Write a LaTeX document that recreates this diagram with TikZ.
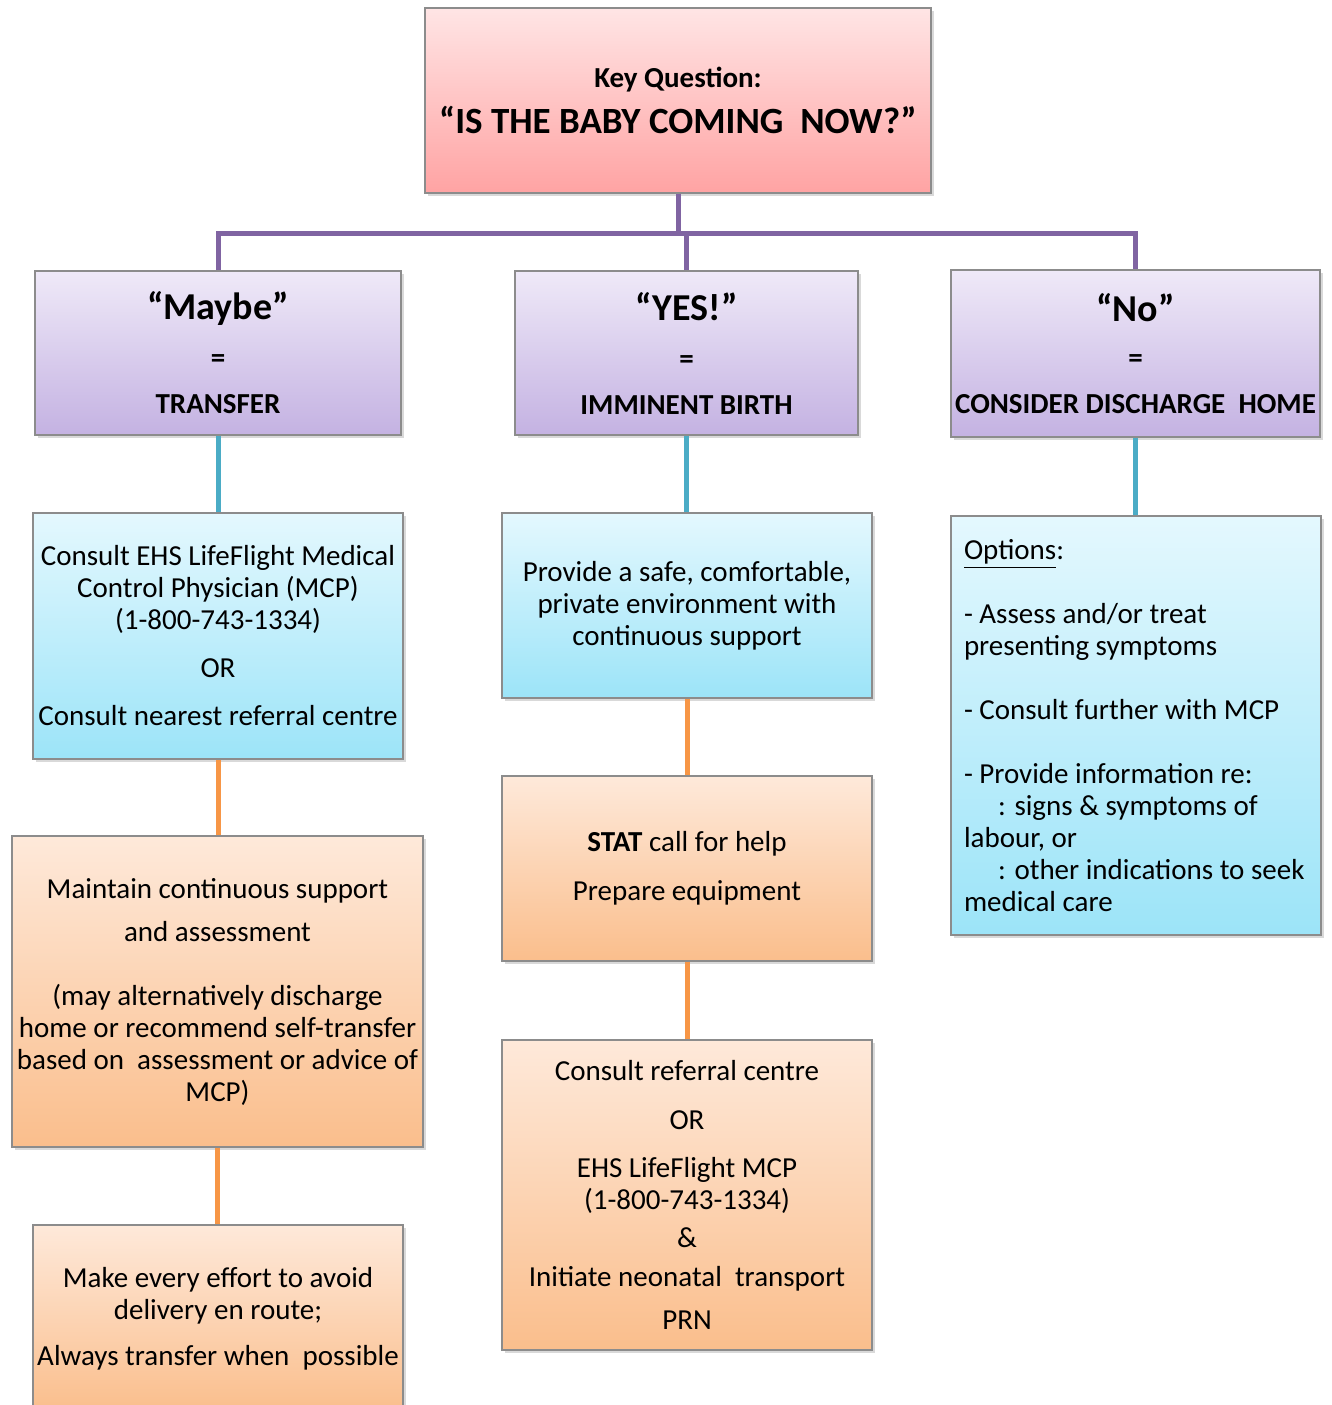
\documentclass[tikz,border=0pt]{standalone}
\usepackage{fontspec}
\setmainfont{Carlito}
\usetikzlibrary{shadows}
\definecolor{keytop}{RGB}{255,229,229}
\definecolor{keybot}{RGB}{255,163,163}
\definecolor{purtop}{RGB}{239,233,248}
\definecolor{purbot}{RGB}{196,178,226}
\definecolor{blutop}{RGB}{228,248,254}
\definecolor{blubot}{RGB}{156,228,248}
\definecolor{orntop}{RGB}{254,233,218}
\definecolor{ornbot}{RGB}{250,190,140}
\definecolor{purline}{RGB}{128,100,162}
\definecolor{bluline}{RGB}{75,172,198}
\definecolor{ornline}{RGB}{247,150,70}
\begin{document}
\begin{tikzpicture}[x=0.5pt,y=-0.5pt,
    box/.style={draw=black!45, line width=.6pt, align=center, inner sep=2pt,
      drop shadow={shadow xshift=1.5pt,shadow yshift=-1.5pt,opacity=.3},
      font=\fontsize{14.5}{16}\selectfont},
    keybox/.style={box, top color=keytop, bottom color=keybot},
    purbox/.style={box, top color=purtop, bottom color=purbot},
    blubox/.style={box, top color=blutop, bottom color=blubot},
    ornbox/.style={box, top color=orntop, bottom color=ornbot},
    link/.style={line width=2.5pt}]
  \useasboundingbox (0,0) rectangle (1332,1405);
  % question and the three answers
  \node[keybox, minimum width=253pt, minimum height=92.5pt] (key) at (678,100.5)
    {\bfseries Key Question:\\[7pt]{\fontsize{18.5}{20}\bfseries “IS THE BABY COMING~~NOW?”}};
  \node[purbox, minimum width=183pt, minimum height=82pt] (maybe) at (218,353)
    {{\fontsize{19}{20}\bfseries “Maybe”}\\[8pt]\bfseries =\\[7pt]\bfseries TRANSFER};
  \node[purbox, minimum width=171.5pt, minimum height=82pt] (yes) at (686.5,353)
    {{\fontsize{19}{20}\bfseries “YES!”}\\[8pt]\bfseries =\\[7pt]\bfseries IMMINENT BIRTH};
  \node[purbox, minimum width=184.5pt, minimum height=83.5pt] (no) at (1135.5,353.5)
    {{\fontsize{19}{20}\bfseries “No”}\\[7pt]\bfseries =\\[7pt]\bfseries CONSIDER DISCHARGE~~HOME};
  % first steps
  \node[blubox, minimum width=185pt, minimum height=123pt] (consult) at (218,636)
    {Consult EHS LifeFlight Medical\\Control Physician (MCP)\\(1-800-743-1334)\\[8pt]OR\\[8pt]Consult nearest referral centre};
  \node[blubox, minimum width=185pt, minimum height=92.5pt] (provide) at (687,605.5)
    {Provide a safe, comfortable,\\private environment with\\continuous support};
  \node[blubox, text width=172pt, align=left, inner xsep=6.5pt, minimum height=209.5pt] (options) at (1136,725.5)
    {\spaceskip=0pt\xspaceskip=0pt\underline{Options}:\\[16pt]- Assess and/or treat\\presenting symptoms\\[16pt]- Consult further with MCP\\[16pt]- Provide information re:\\
     \hspace*{17pt}: signs \& symptoms of\\labour, or\\\hspace*{17pt}: other indications to seek\\medical care};
  % further steps
  \node[ornbox, minimum width=205.5pt, minimum height=155.5pt] (maintain) at (217.5,991.5)
    {Maintain continuous support\\[5.5pt]and assessment\\[16pt](may alternatively discharge\\home or recommend self-transfer\\based on~~assessment or advice of\\MCP)};
  \node[ornbox, minimum width=185pt, minimum height=93.5pt] (effort) at (218,1318.5)
    {Make every effort to avoid\\delivery en route;\\[7pt]Always transfer when~~possible};
  \node[ornbox, minimum width=185pt, minimum height=92.5pt] (stat) at (687,868.5)
    {\textbf{STAT} call for help\\[8.5pt]Prepare equipment};
  \node[ornbox, minimum width=185pt, minimum height=155pt] (referral) at (687,1195)
    {Consult referral centre\\[8.5pt]OR\\[8pt]EHS LifeFlight MCP\\(1-800-743-1334)\\[3pt]\&\\[3.5pt]Initiate neonatal~~transport\\[5.5pt]PRN};
  % connectors
  \coordinate (bus) at (678,233);
  \draw[link, purline] (key) -- (bus) (maybe.north) |- (bus) -| (no.north)
    (bus -| yes.north) -- (yes.north);
  \foreach \a/\b/\c in {maybe/consult/bluline, yes/provide/bluline, no/options/bluline,
                        consult/maintain/ornline, maintain/effort/ornline,
                        provide/stat/ornline, stat/referral/ornline}{
    \draw[link, \c] (\a.south) -- (\a.south |- \b.north);
  }
\end{tikzpicture}
\end{document}
